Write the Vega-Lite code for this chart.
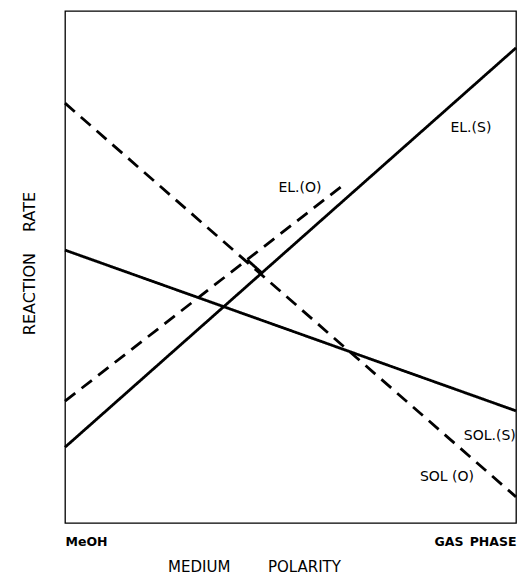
{
  "$schema": "https://vega.github.io/schema/vega-lite/v6.json",
  "width": 451,
  "height": 512,
  "autosize": {"type": "none"},
  "padding": {"left": 65, "top": 11, "right": 3, "bottom": 53},
  "background": "white",
  "config": {
    "view": {"stroke": "black", "strokeWidth": 1.3},
    "font": "DejaVu Sans"
  },
  "datasets": {
    "lines": [
      {"series": "EL.(S)", "x": 0, "y": 14.8},
      {"series": "EL.(S)", "x": 100, "y": 92.8},
      {"series": "SOL.(S)", "x": 0, "y": 53.3},
      {"series": "SOL.(S)", "x": 100, "y": 21.9},
      {"series": "EL.(O)", "x": 0, "y": 23.8},
      {"series": "EL.(O)", "x": 61.4, "y": 65.8},
      {"series": "SOL (O)", "x": 0, "y": 82.0},
      {"series": "SOL (O)", "x": 100, "y": 5.1},
      {"series": "link", "x": 40.4, "y": 51.4},
      {"series": "link", "x": 43.7, "y": 48.8}
    ],
    "labels": [
      {"label": "EL.(S)", "x": 90.0, "y": 77.1},
      {"label": "EL.(O)", "x": 52.1, "y": 65.4},
      {"label": "SOL.(S)", "x": 94.2, "y": 17.0},
      {"label": "SOL (O)", "x": 84.7, "y": 9.0}
    ]
  },
  "layer": [
    {
      "data": {"name": "lines"},
      "mark": {"type": "line", "color": "black", "strokeCap": "butt"},
      "encoding": {
        "x": {
          "field": "x", "type": "quantitative",
          "scale": {"domain": [0, 100], "nice": false, "zero": false},
          "axis": {
            "values": [0, 100],
            "labelExpr": "datum.value == 0 ? 'MeOH' : 'GAS\u2002PHASE'",
            "labelFlush": true,
            "labelFont": "DejaVu Sans",
            "labelFontWeight": "bold",
            "labelFontSize": 12.5,
            "labelColor": "black",
            "labelPadding": 12,
            "ticks": false,
            "grid": false,
            "domain": false,
            "title": "MEDIUM\u2003\u2003\u2002POLARITY",
            "titleFont": "DejaVu Sans",
            "titleFontWeight": "normal",
            "titleFontSize": 15,
            "titleColor": "black",
            "titleX": 189,
            "titleY": 43,
            "titleAlign": "center",
            "titleBaseline": "middle"
          }
        },
        "y": {
          "field": "y", "type": "quantitative",
          "scale": {"domain": [0, 100], "nice": false, "zero": false},
          "axis": {
            "values": [],
            "labels": false,
            "ticks": false,
            "grid": false,
            "domain": false,
            "title": "REACTION\u2003 RATE",
            "titleFont": "DejaVu Sans",
            "titleFontWeight": "normal",
            "titleFontSize": 16,
            "titleColor": "black",
            "titleAngle": -90,
            "titleX": -36,
            "titleY": 252,
            "titleAlign": "center",
            "titleBaseline": "middle"
          }
        },
        "detail": {"field": "series", "type": "nominal"},
        "strokeDash": {
          "field": "series", "type": "nominal",
          "scale": {
            "domain": ["EL.(S)", "SOL.(S)", "EL.(O)", "SOL (O)", "link"],
            "range": [[1, 0], [1, 0], [13, 8], [13, 8], [1, 0]]
          },
          "legend": null
        },
        "strokeWidth": {
          "field": "series", "type": "nominal",
          "scale": {
            "domain": ["EL.(S)", "SOL.(S)", "EL.(O)", "SOL (O)", "link"],
            "range": [2.8, 2.8, 1.6, 1.6, 2]
          },
          "legend": null
        }
      }
    },
    {
      "data": {"name": "labels"},
      "mark": {"type": "text", "color": "black", "font": "DejaVu Sans", "fontSize": 14, "align": "center", "baseline": "middle"},
      "encoding": {
        "x": {"field": "x", "type": "quantitative"},
        "y": {"field": "y", "type": "quantitative"},
        "text": {"field": "label", "type": "nominal"}
      }
    }
  ]
}
